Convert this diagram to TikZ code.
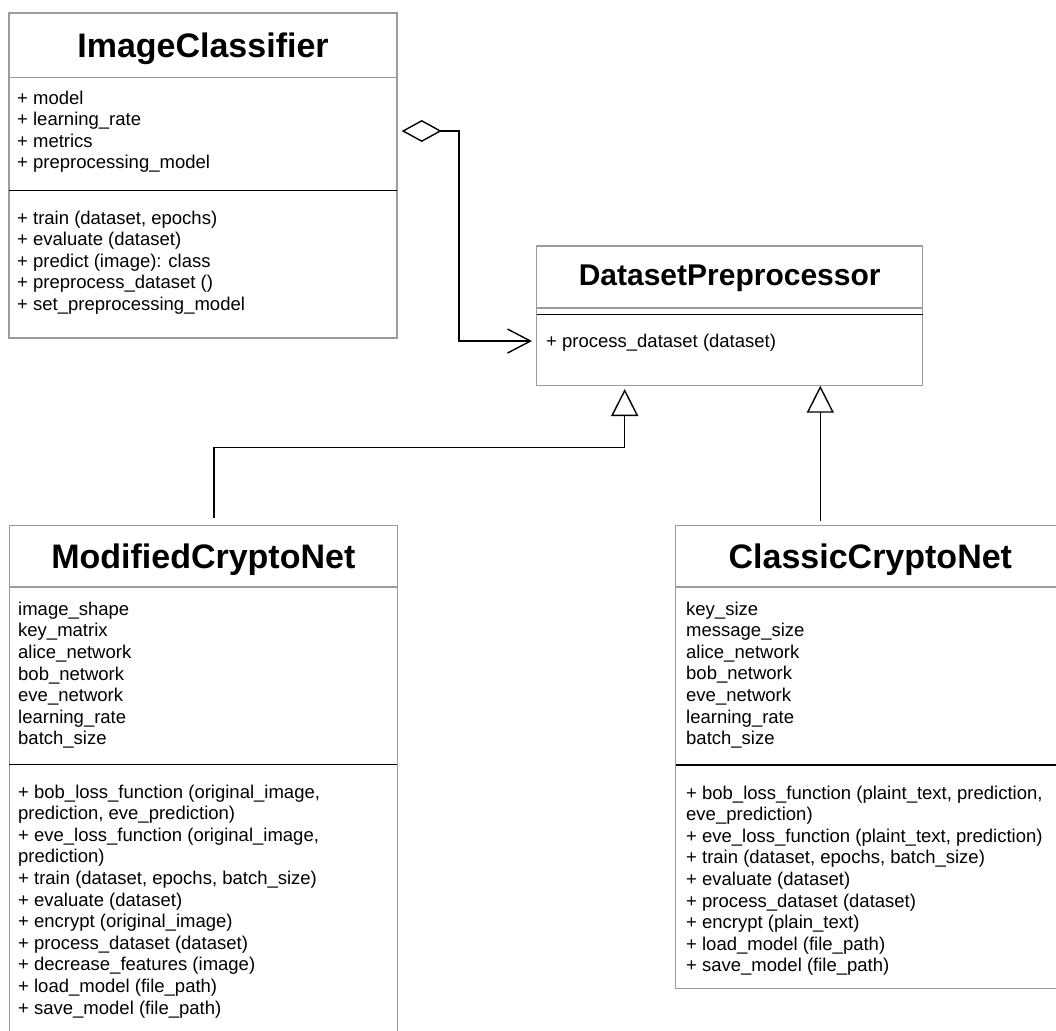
\documentclass[tikz,border=0pt]{standalone}
\usepackage{fontspec}
\setmainfont{Liberation Sans}
\usetikzlibrary{arrows.meta,calc}

\definecolor{frame}{HTML}{9B9B9B}

\tikzset{
  classbox/.style={draw=frame, line width=1.3pt, fill=white, anchor=north west,
    inner sep=0pt, outer sep=0pt},
  classtitle/.style={anchor=base, inner sep=0pt, font=\fontsize{34}{40}\selectfont\bfseries},
  member/.style={anchor=base west, inner sep=0pt, font=\fontsize{18.5}{21.6}\selectfont},
  softrule/.style={draw=frame, line width=1.3pt},
  hardrule/.style={draw=black, line width=1.4pt},
  link/.style={draw=black, line width=1.4pt},
}

% one text line per member, 21.6pt apart, first baseline at #2
\newcommand\memberlist[3]{%
  \foreach \m [count=\k from 0] in {#3} {%
    \node[member] (#1\k) at ($(#2)+(0,21.6*\k)$) {\m};%
  }%
}

\begin{document}
\begin{tikzpicture}[x=1pt,y=-1pt]
\clip (0,0) rectangle (1056,1030);
\fill[white] (0,0) rectangle (1056,1030);

% ---------------- ImageClassifier ----------------
\node[classbox, minimum width=388pt, minimum height=325pt] (ic) at (9,13) {};
\node[classtitle] (ict) at ($(ic.north)+(0,44.4)$) {ImageClassifier};
\draw[softrule] ($(ic.north west)+(0,64.3)$) -- ($(ic.north east)+(0,64.3)$);
\draw[hardrule] ($(ic.north west)+(0,177.7)$) -- ($(ic.north east)+(0,177.7)$);
\coordinate (ica) at ($(ic.north west)+(8,91)$);
\coordinate (icm) at ($(ic.north west)+(8,211)$);
\memberlist{ica}{ica}{{+ model},{+ learning\_rate},{+ metrics},{+ preprocessing\_model}}
\memberlist{icm}{icm}{{+ train (dataset, epochs)},{+ evaluate (dataset)},{+ predict (image): class},{+ preprocess\_dataset ()},{+ set\_preprocessing\_model}}

% ---------------- DatasetPreprocessor ----------------
\node[classbox, minimum width=386pt, minimum height=139.7pt] (dp) at (536.7,246) {};
\node[classtitle, font=\fontsize{30}{36}\selectfont\bfseries] (dpt) at ($(dp.north)+(0,39.7)$) {DatasetPreprocessor};
\draw[softrule] ($(dp.north west)+(0,62)$) -- ($(dp.north east)+(0,62)$);
\draw[hardrule] ($(dp.north west)+(0,68.7)$) -- ($(dp.north east)+(0,68.7)$);
\coordinate (dpm) at ($(dp.north west)+(9.3,101.7)$);
\memberlist{dpm}{dpm}{{+ process\_dataset (dataset)}}

% ---------------- ModifiedCryptoNet ----------------
\node[classbox, minimum width=388pt, minimum height=520pt] (mcn) at (9.3,525.8) {};
\node[classtitle] (mcnt) at ($(mcn.north)+(0,42.8)$) {ModifiedCryptoNet};
\draw[softrule] ($(mcn.north west)+(0,61.2)$) -- ($(mcn.north east)+(0,61.2)$);
\draw[hardrule] ($(mcn.north west)+(0,238.7)$) -- ($(mcn.north east)+(0,238.7)$);
\coordinate (mcna) at ($(mcn.north west)+(8.7,89.5)$);
\coordinate (mcnm) at ($(mcn.north west)+(8.7,272.2)$);
\memberlist{mcna}{mcna}{{image\_shape},{key\_matrix},{alice\_network},{bob\_network},{eve\_network},{learning\_rate},{batch\_size}}
\memberlist{mcnm}{mcnm}{{+ bob\_loss\_function (original\_image,},{prediction, eve\_prediction)},{+ eve\_loss\_function (original\_image,},{prediction)},{+ train (dataset, epochs, batch\_size)},{+ evaluate (dataset)},{+ encrypt (original\_image)},{+ process\_dataset (dataset)},{+ decrease\_features (image)},{+ load\_model (file\_path)},{+ save\_model (file\_path)}}

% ---------------- ClassicCryptoNet ----------------
\node[classbox, minimum width=389.3pt, minimum height=462.5pt] (ccn) at (675.7,525.7) {};
\node[classtitle] (ccnt) at ($(ccn.north)+(0,42.8)$) {ClassicCryptoNet};
\draw[softrule] ($(ccn.north west)+(0,61.3)$) -- ($(ccn.north east)+(0,61.3)$);
\draw[hardrule] ($(ccn.north west)+(0,239.3)$) -- ($(ccn.north east)+(0,239.3)$);
\coordinate (ccna) at ($(ccn.north west)+(10.3,89.3)$);
\coordinate (ccnm) at ($(ccn.north west)+(10.3,273.3)$);
\memberlist{ccna}{ccna}{{key\_size},{message\_size},{alice\_network},{bob\_network},{eve\_network},{learning\_rate},{batch\_size}}
\memberlist{ccnm}{ccnm}{{+ bob\_loss\_function (plaint\_text, prediction,},{eve\_prediction)},{+ eve\_loss\_function (plaint\_text, prediction)},{+ train (dataset, epochs, batch\_size)},{+ evaluate (dataset)},{+ process\_dataset (dataset)},{+ encrypt (plain\_text)},{+ load\_model (file\_path)},{+ save\_model (file\_path)}}

% ---------------- relations ----------------
% aggregation: ImageClassifier holds a DatasetPreprocessor
\coordinate (aggS) at ($(ic.east)+(4.7,-44.5)$);
\coordinate (aggE) at ($(dp.west)+(-4.7,25.2)$);
\draw[link, line join=miter, {Diamond[open, length=40pt, width=22pt]}-{Straight Barb[length=23pt, width=24pt]}]
  (aggS) -- ++(57.3,0) |- (aggE);

% generalisation: ModifiedCryptoNet -> DatasetPreprocessor
\coordinate (genLS) at ($(mcn.north)+(10.7,-8)$);
\coordinate (genLE) at ($(dp.south)+(-105,3.3)$);
\draw[link, -{Triangle[open, length=27pt, width=27pt]}]
  (genLS) -- ++(0,-70.3) -| (genLE);

% generalisation: ClassicCryptoNet -> DatasetPreprocessor
\coordinate (genRS) at ($(ccn.north)+(-50.05,-4.7)$);
\draw[link, -{Triangle[open, length=27pt, width=27pt]}]
  (genRS) -- (genRS |- dp.south);
\end{tikzpicture}
\end{document}
